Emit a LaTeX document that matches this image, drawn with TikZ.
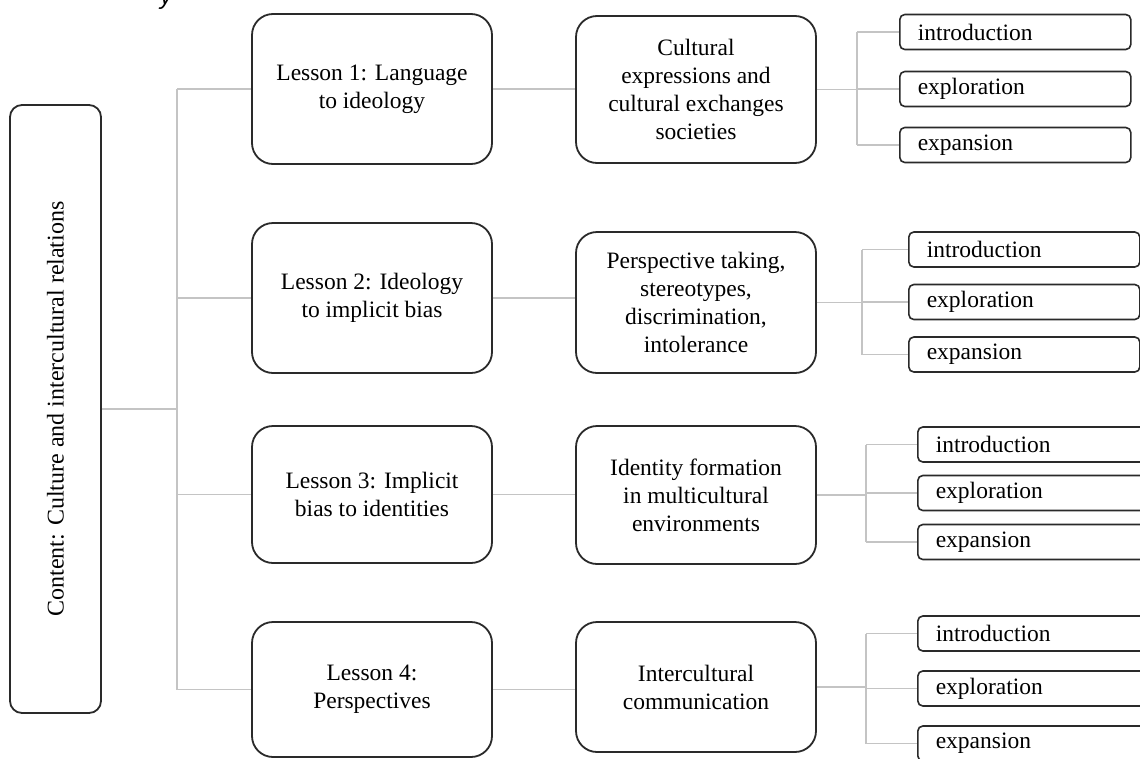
\documentclass[tikz,border=0pt]{standalone}
\usepackage{fontspec}
\setmainfont{Liberation Serif}
\newfontfamily\capfont{Liberation Sans}
\definecolor{boxc}{RGB}{42,42,42}
\definecolor{connc}{RGB}{196,196,196}
\begin{document}
\begin{tikzpicture}[x=1pt,y=-1pt,
  box/.style={draw=boxc, line width=1.8pt, rounded corners=21pt, fill=white, inner sep=0pt,
              align=center, minimum width=240pt, font=\fontsize{23.5}{28}\selectfont},
  leftbox/.style={draw=boxc, line width=1.8pt, rounded corners=12pt, fill=white, inner sep=0pt,
              font=\fontsize{24}{28}\selectfont},
  small/.style={draw=boxc, line width=1.6pt, rounded corners=5pt, fill=white, anchor=west,
              inner xsep=18pt, inner ysep=0pt, text width=195pt, align=left, minimum height=35pt,
              font=\fontsize{23.5}{28}\selectfont},
  conn/.style={draw=connc, line width=1.5pt}]
\fill[white] (0,0) rectangle (1140,758);
\useasboundingbox (0,0) rectangle (1140,758);

% cut-off caption fragment at the top
\node[font=\capfont\itshape\fontsize{24}{24}\selectfont, anchor=base, inner sep=0pt] (yfrag) at (166,4) {y};

% root
\node[leftbox, rotate=90, minimum width=608pt, minimum height=91pt] (content) at (55.5,409)
  {Content: Culture and intercultural relations};
\coordinate (trunk) at (177,409);

% lessons
\node[box, minimum height=150pt] (L1) at (372,89) {Lesson 1: Language\\to ideology};
\node[box, minimum height=150pt] (L2) at (372,298) {Lesson 2: Ideology\\to implicit bias};
\node[box, minimum height=137pt] (L3) at (372,494.5) {Lesson 3: Implicit\\bias to identities};
\node[box, minimum height=135pt] (L4) at (372,689.5) {Lesson 4:\\Perspectives};

% topics
\node[box, minimum height=147pt] (M1) at (696,89.5) {Cultural\\expressions and\\cultural exchanges\\societies};
\node[box, minimum height=141pt] (M2) at (696,302.5) {Perspective taking,\\stereotypes,\\discrimination,\\intolerance};
\node[box, minimum height=138pt] (M3) at (696,495) {Identity formation\\in multicultural\\environments};
\node[box, minimum height=130pt] (M4) at (696,687) {Intercultural\\communication};

% phases
\node[small] (i1) at (899,32) {introduction};
\node[small] (e1) at (899,89) {exploration};
\node[small] (x1) at (899,145) {expansion};
\node[small] (i2) at (908,249.5) {introduction};
\node[small] (e2) at (908,302) {exploration};
\node[small] (x2) at (908,354.5) {expansion};
\node[small] (i3) at (917,444.5) {introduction};
\node[small] (e3) at (917,493) {exploration};
\node[small] (x3) at (917,542) {expansion};
\node[small] (i4) at (917,633.5) {introduction};
\node[small] (e4) at (917,688.5) {exploration};
\node[small] (x4) at (917,743.5) {expansion};

\coordinate (r1) at (857,0);
\coordinate (r2) at (862,0);
\coordinate (r3) at (866,0);
\coordinate (r4) at (866,0);

% connectors: root to lessons
\begin{scope}[on background layer/.style={}]
\draw[conn] (content.south) -- (trunk);
\draw[conn] (L1.west -| trunk) -- (L4.west -| trunk);
\foreach \n in {L1,L2,L3,L4} \draw[conn] (\n.west -| trunk) -- (\n.west);
% lessons to topics
\draw[conn] (L1.east) -- (L1.east -| M1.west);
\draw[conn] (L2.east) -- (L2.east -| M2.west);
\draw[conn] (L3.east) -- (L3.east -| M3.west);
\draw[conn] (L4.east) -- (L4.east -| M4.west);
% topics to phases
\foreach \k in {1,2,3,4} {
  \draw[conn] (M\k.east) -- (M\k.east -| r\k);
  \draw[conn] (i\k.west -| r\k) -- (x\k.west -| r\k);
  \draw[conn] (i\k.west -| r\k) -- (i\k.west);
  \draw[conn] (e\k.west -| r\k) -- (e\k.west);
  \draw[conn] (x\k.west -| r\k) -- (x\k.west);
}
\end{scope}
\end{tikzpicture}
\end{document}
